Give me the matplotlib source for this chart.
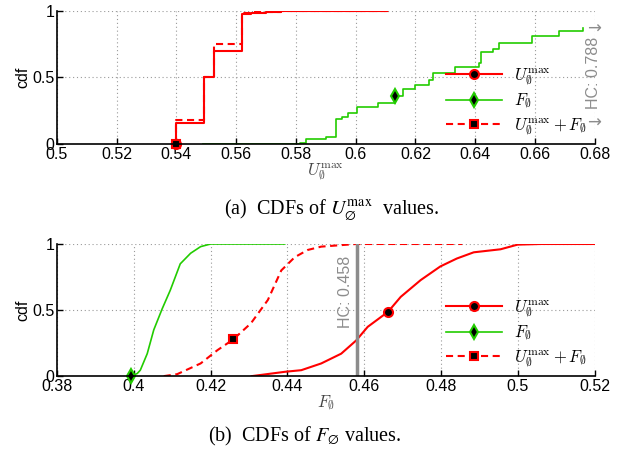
import numpy as np
import matplotlib.pyplot as plt
from matplotlib.lines import Line2D

plt.rcParams['font.family'] = ['Liberation Sans', 'DejaVu Sans']
plt.rcParams['mathtext.fontset'] = 'cm'

RED = '#ff0000'
GREEN = '#22cc00'
GREY = '#8c8c8c'

# (a) CDFs of U_max values (empirical, stepped)
u_a_x = [0.54, 0.54, 0.5492, 0.5524, 0.562, 0.565, 0.57, 0.575, 0.61]
u_a_y = [0.0, 0.16, 0.50, 0.70, 0.975, 0.985, 0.993, 1.0, 1.0]
uf_a_x = [0.54, 0.54, 0.5492, 0.5524, 0.562, 0.566, 0.575, 0.611]
uf_a_y = [0.0, 0.18, 0.50, 0.75, 0.98, 0.99, 1.0, 1.0]
f_a_x = [0.549, 0.5815, 0.5833, 0.590, 0.5933, 0.5953, 0.5975, 0.6006, 0.6073,
         0.6132, 0.6158, 0.6197, 0.6245, 0.626, 0.6334, 0.6413, 0.6418, 0.6458,
         0.648, 0.659, 0.6679, 0.676]
f_a_y = [0.0, 0.01, 0.035, 0.05, 0.186, 0.2, 0.23, 0.28, 0.31, 0.36, 0.41, 0.445,
         0.48, 0.53, 0.58, 0.61, 0.69, 0.71, 0.76, 0.81, 0.845, 0.87]
hc_a = 0.788

# (b) CDFs of F values
f_b_x = [0.3993, 0.4009, 0.4017, 0.4035, 0.4052, 0.4074, 0.4095, 0.4121, 0.4148,
         0.4174, 0.420, 0.4393]
f_b_y = [0.0, 0.02, 0.045, 0.17, 0.35, 0.51, 0.65, 0.85, 0.93, 0.98, 1.0, 1.0]
uf_b_x = [0.4078, 0.4113, 0.4174, 0.4218, 0.4259, 0.4305, 0.4349, 0.4384, 0.4419,
          0.4453, 0.4488, 0.4579, 0.4855]
uf_b_y = [0.0, 0.015, 0.096, 0.197, 0.278, 0.40, 0.576, 0.80, 0.90, 0.955, 0.98,
          1.0, 1.0]
u_b_x = [0.4307, 0.4394, 0.4436, 0.4488, 0.454, 0.4579, 0.4609, 0.4662, 0.4695,
         0.4747, 0.4798, 0.4841, 0.4885, 0.4955, 0.4999, 0.5059, 0.52]
u_b_y = [0.0, 0.033, 0.045, 0.096, 0.17, 0.27, 0.373, 0.487, 0.60, 0.727, 0.83,
         0.89, 0.937, 0.96, 0.995, 1.0, 1.0]
hc_b = 0.458

# which data point carries the marker
mk_a = {'u': 0, 'f': 9, 'uf': 0}
mk_b = {'u': 7, 'f': 0, 'uf': 4}

lab_u = r'$U_{\emptyset}^{\mathrm{max}}$'
lab_f = r'$F_{\emptyset}$'
lab_uf = r'$U_{\emptyset}^{\mathrm{max}}+F_{\emptyset}$'

u_style = dict(color=RED, lw=1.5)
f_style = dict(color=GREEN, lw=1.2)
uf_style = dict(color=RED, lw=1.5, ls=(0, (3.4, 2.2)))
u_mk = dict(marker='o', ms=6.5, mfc='k', mec=RED, mew=1.5, ls='none')
f_mk = dict(marker='d', ms=7.5, mfc='k', mec=GREEN, mew=1.5, ls='none')
uf_mk = dict(marker='s', ms=6, mfc='k', mec=RED, mew=1.5, ls='none')


def style_axes(ax, xmin, xmax, xticks):
    ax.set_xlim(xmin, xmax)
    ax.set_ylim(0, 1)
    ax.set_xticks(xticks)
    ax.set_xticklabels(['%g' % t for t in xticks])
    ax.set_yticks([0, 0.5, 1])
    ax.set_yticklabels(['0', '0.5', '1'])
    ax.spines['top'].set_visible(False)
    ax.spines['right'].set_visible(False)
    ax.spines['left'].set_linewidth(1.2)
    ax.spines['bottom'].set_linewidth(1.2)
    ax.tick_params(direction='in', length=4, width=1, labelsize=11.5, pad=2,
                   top=False, right=False)
    ax.grid(True, ls=(0, (1, 2.5)), color='#9a9a9a', lw=0.8)
    ax.set_axisbelow(True)
    ax.set_ylabel('cdf', fontsize=11.5, labelpad=1)


def add_legend(ax, ycen):
    handles = [Line2D([], [], **u_style, marker='o', ms=6.5, mfc='k', mec=RED, mew=1.5),
               Line2D([], [], **f_style, marker='d', ms=7.5, mfc='k', mec=GREEN, mew=1.5),
               Line2D([], [], **uf_style, marker='s', ms=6, mfc='k', mec=RED, mew=1.5)]
    ax.legend(handles, [lab_u, lab_f, lab_uf], loc='center left',
              bbox_to_anchor=(0.723, ycen), frameon=False, fontsize=12,
              handlelength=3.4, handletextpad=0.7, labelspacing=0.3,
              borderpad=0, borderaxespad=0)


fig = plt.figure(figsize=(6.26, 4.51), dpi=100)

# ---- (a)
ax1 = fig.add_axes([0.091, 0.681, 0.859, 0.295])
style_axes(ax1, 0.5, 0.68, np.round(np.arange(0.5, 0.6801, 0.02), 2))
ax1.plot(f_a_x, f_a_y, drawstyle='steps-post', **f_style)
ax1.plot(uf_a_x, uf_a_y, drawstyle='steps-post', **uf_style)
ax1.plot(u_a_x, u_a_y, drawstyle='steps-post', **u_style)
ax1.plot(f_a_x[mk_a['f']], f_a_y[mk_a['f']], **f_mk)
ax1.plot(u_a_x[mk_a['u']], u_a_y[mk_a['u']], clip_on=False, **u_mk)
ax1.plot(uf_a_x[mk_a['uf']], uf_a_y[mk_a['uf']], clip_on=False, **uf_mk)
ax1.set_xlabel(lab_u, fontsize=12, color='#444444', labelpad=0)
add_legend(ax1, 0.318)
# HC value lies off the right edge
ax1.text(0.998, 0.534, 'HC: %g' % hc_a, transform=ax1.transAxes, rotation=90,
         ha='center', va='center', color=GREY, fontsize=11.5)
ax1.text(0.998, 0.865, '\u2192', transform=ax1.transAxes, ha='center',
         va='center', color=GREY, fontsize=12, family='DejaVu Sans')
ax1.text(0.998, 0.158, '\u2192', transform=ax1.transAxes, ha='center',
         va='center', color=GREY, fontsize=12, family='DejaVu Sans')

# ---- (b)
ax2 = fig.add_axes([0.091, 0.166, 0.859, 0.293])
style_axes(ax2, 0.38, 0.52, np.round(np.arange(0.38, 0.5201, 0.02), 2))
ax2.plot(f_b_x, f_b_y, **f_style)
ax2.plot(uf_b_x, uf_b_y, **uf_style)
ax2.plot(u_b_x, u_b_y, **u_style)
ax2.plot([hc_b, hc_b], [0, 1], color=GREY, lw=2.5)
ax2.plot(f_b_x[mk_b['f']], f_b_y[mk_b['f']], clip_on=False, **f_mk)
ax2.plot(uf_b_x[mk_b['uf']], uf_b_y[mk_b['uf']], **uf_mk)
ax2.plot(u_b_x[mk_b['u']], u_b_y[mk_b['u']], **u_mk)
ax2.set_xlabel(lab_f, fontsize=12, color='#444444', labelpad=0)
add_legend(ax2, 0.323)
ax2.annotate('HC: %g' % hc_b, xy=(hc_b, 0.64), xytext=(-8, 0),
             textcoords='offset points', rotation=90, ha='center', va='center',
             color=GREY, fontsize=11.5)

# captions
fig.text(0.529, 1 - 210 / 451, r'(a)  CDFs of $U_{\emptyset}^{\mathrm{max}}$  values.',
         ha='center', va='center', fontsize=14.5, family='Liberation Serif',
         math_fontfamily='stix')
fig.text(0.487, 1 - 436 / 451, r'(b)  CDFs of $F_{\emptyset}$ values.',
         ha='center', va='center', fontsize=14.5, family='Liberation Serif',
         math_fontfamily='stix')

fig.savefig('out.png', dpi=100)
